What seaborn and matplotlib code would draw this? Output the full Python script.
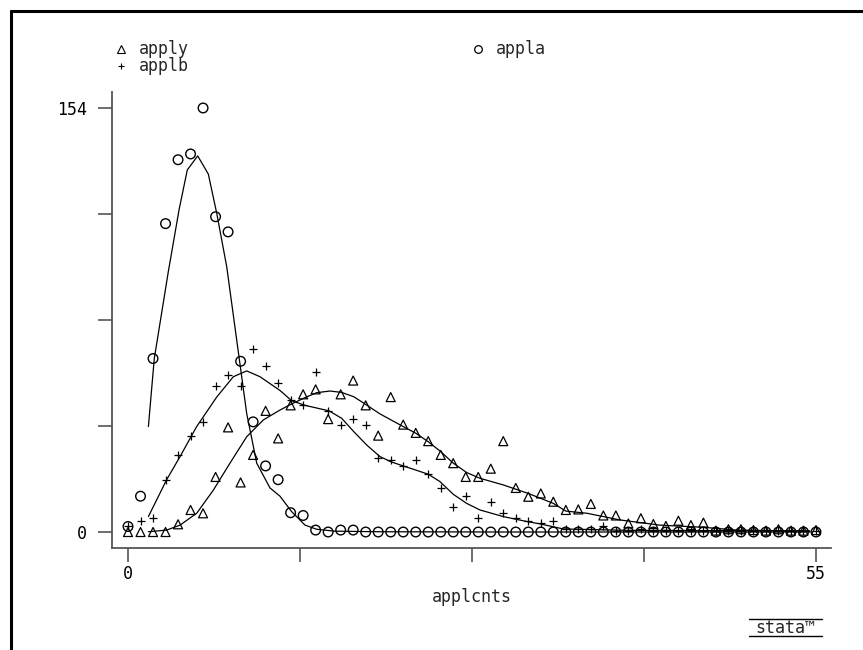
import matplotlib
matplotlib.use("Agg")
import numpy as np
import pandas as pd
import matplotlib.pyplot as plt
import seaborn as sns
from matplotlib.lines import Line2D

# observed counts at each applcnts value (0..55)
applcnts = list(range(56))
apply_obs = [0, 0, 0, 0, 2.8, 8, 6.8, 20, 38, 18, 28, 44, 34, 46, 50, 51.8,
             41, 50, 55, 46, 35, 49, 39, 36, 33, 28, 25, 20, 20, 23, 33, 16,
             12.8, 14, 11, 8, 8.2, 10.2, 6, 6, 3.1, 5, 2.9, 2.2, 4.1, 2.5,
             3.4, 0.5, 1, 1, 0.7, 0.5, 1, 0.5, 0.5, 0.7]
applb_obs = [2, 4.1, 5.2, 19, 28, 35, 40, 53, 57, 53, 66.4, 60.3, 54.2, 48, 46,
             58.2, 44, 39, 41, 39, 27, 26, 24, 26, 21, 16, 9, 13.2, 5, 11, 7,
             5, 4, 3.1, 4.1, 1, 1, 1, 2.2, 0.5, 0.5, 1, 0.5, 0.5, 0.5, 0.5,
             0.5, 0.5, 0.5, 0.5, 0.5, 0.5, 0.5, 0.5, 0.5, 0.5]
appla_obs = [2, 13, 63, 112, 135.2, 137.3, 154, 114.5, 109, 62, 40, 24, 19, 7,
             6, 0.7, 0, 0.7, 0.7] + [0] * 37

# smoothed curves
appla_line_x = [1.63, 2.1, 3.22, 4.08, 4.74, 5.57, 6.42, 7.09, 7.89, 8.69,
                9.49, 10.29, 11.35, 12.15, 13.08, 14.15, 15.08, 16.5, 20, 30,
                40, 54.5]
appla_line_y = [38.3, 63, 94.5, 117, 131.5, 136.6, 130, 115.8, 96.4, 69.7,
                43, 25, 16, 13, 7.4, 2.5, 1, 0.3, 0.1, 0, 0, 0]
applb_line_x = [1.63, 3.09, 4.16, 5.49, 7.09, 8.42, 9.49, 10.55, 12.15, 13.08,
                14.15, 16.07, 17.08, 18.06, 19.08, 20.14, 21.02, 22.0, 24.0,
                24.94, 26.0, 27.07, 28.14, 30.0, 32.0, 33.0, 34.8, 40, 54.5]
applb_line_y = [5.6, 19, 27.4, 38.3, 49, 56.4, 58.5, 56.4, 51.4, 47.7, 46, 44,
                41.3, 36.4, 31.6, 27.4, 25.5, 24, 21, 18.3, 13.7, 10.4, 8, 5.6,
                3.7, 2.9, 1.1, 0.6, 0.4]
apply_line_x = [1.63, 3.09, 4.16, 5.49, 6.82, 8.15, 9.49, 10.82, 12.15, 13.08,
                14.15, 15.08, 16.15, 17.08, 18.06, 19.08, 20.14, 22, 23, 24,
                25, 26, 27.07, 28.14, 30, 32, 33, 34, 35, 36.7, 39.3, 42.5, 46,
                48.65, 54.5]
apply_line_y = [0.1, 0.7, 2.5, 6.8, 15.2, 25, 34.6, 40.7, 44.3, 46.5, 48.8,
                50.6, 51.2, 50.7, 49.1, 46.1, 42.9, 38.3, 35.9, 32.8, 29.2, 25,
                21.6, 19.5, 17.1, 14, 12.2, 10.4, 7.6, 6.8, 4.4, 2.5, 1.7, 0.7,
                0.3]

df = pd.DataFrame({"applcnts": applcnts, "apply": apply_obs,
                   "applb": applb_obs, "appla": appla_obs})

sns.set_theme(style="white")
plt.rcParams['font.family'] = ['DejaVu Sans Mono', 'DejaVu Sans']

W, H = 863, 650
fig = plt.figure(figsize=(W / 100, H / 100), dpi=100)
ax = fig.add_axes([112 / W, 1 - 548 / H, (831 - 112) / W, (548 - 92) / H])

for lx, ly in [(appla_line_x, appla_line_y), (applb_line_x, applb_line_y),
               (apply_line_x, apply_line_y)]:
    sns.lineplot(x=lx, y=ly, ax=ax, color="black", linewidth=0.9,
                 sort=False, estimator=None)

sns.scatterplot(data=df, x="applcnts", y="appla", marker="o", s=48,
                fc="none", ec="black", linewidth=1.0, ax=ax, zorder=3)
sns.scatterplot(data=df, x="applcnts", y="applb", marker="+", s=28,
                color="black", linewidth=0.9, ax=ax, zorder=3)
sns.scatterplot(data=df, x="applcnts", y="apply", marker="^", s=42,
                fc="none", ec="black", linewidth=0.9, ax=ax, zorder=4)

ax.set_xlim(-1.28, 56.2)
ax.set_ylim(-5.81, 159.8)
ax.set_xticks([0, 13.75, 27.5, 41.25, 55])
ax.set_xticklabels(["0", "", "", "", "55"])
ax.set_yticks([0, 38.5, 77, 115.5, 154])
ax.set_yticklabels(["0", "", "", "", "154"])
ax.set_xlabel("applcnts", fontsize=12, labelpad=4)
ax.set_ylabel("")

sns.despine(ax=ax)
for side in ["left", "bottom"]:
    ax.spines[side].set_color("#555555")
    ax.spines[side].set_linewidth(1.3)
ax.tick_params(axis="both", direction="out", length=10, width=1.2,
               color="#555555", labelsize=12, labelcolor="black")
ax.tick_params(axis="y", pad=8)
ax.tick_params(axis="x", pad=2)
ax.tick_params(bottom=True, left=True)

# legend above the plot
def fx(px):
    return px / W

def fy(py):
    return 1 - py / H

legend_items = [("^", 121, 49, "apply", 5.5, 0.8),
                ("+", 121, 66, "applb", 5, 0.8),
                ("o", 478, 49, "appla", 5.5, 0.9)]
for mk, px, py, label, ms, mew in legend_items:
    fig.add_artist(Line2D([fx(px)], [fy(py)], marker=mk, markersize=ms,
                          markerfacecolor="none", markeredgecolor="black",
                          markeredgewidth=mew, linestyle="none",
                          transform=fig.transFigure))
    fig.text(fx(px + 18), fy(py), label, fontsize=12, va="center", ha="left")

# stata logo
fig.text(fx(785), fy(628), "stata\u2122", fontsize=12, ha="center",
         va="center")
fig.add_artist(Line2D([fx(749), fx(822)], [fy(619), fy(619)], color="black",
                      linewidth=1, transform=fig.transFigure))
fig.add_artist(Line2D([fx(749), fx(822)], [fy(636), fy(636)], color="black",
                      linewidth=1, transform=fig.transFigure))

# outer frame
fig.add_artist(Line2D([fx(11), fx(863)], [fy(11), fy(11)], color="black",
                      linewidth=2.2, transform=fig.transFigure))
fig.add_artist(Line2D([fx(11), fx(11)], [fy(11), fy(650)], color="black",
                      linewidth=2.2, transform=fig.transFigure))

fig.savefig("out.png", dpi=100)
